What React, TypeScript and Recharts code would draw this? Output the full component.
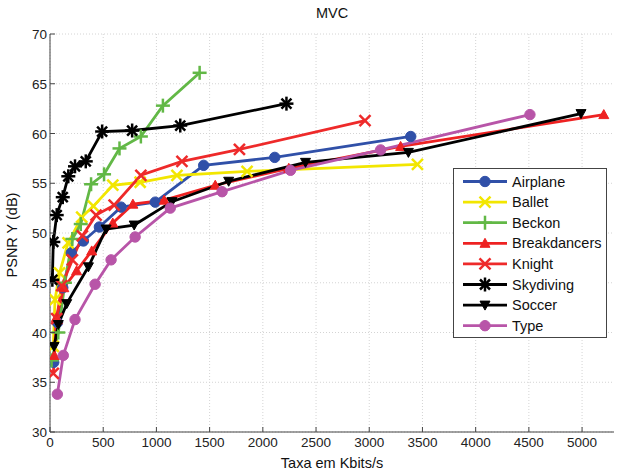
import React from 'react';
import { LineChart, Line, XAxis, YAxis, CartesianGrid } from 'recharts';

const xTicks = [0, 500, 1000, 1500, 2000, 2500, 3000, 3500, 4000, 4500, 5000];
const yTicks = [30, 35, 40, 45, 50, 55, 60, 65, 70];

// [rate kbit/s, PSNR dB]
const airplane = [[35, 37.0], [70, 41.0], [120, 44.5], [200, 48.0], [314, 49.2], [464, 50.6], [668, 52.6], [989, 53.1], [1444, 56.8], [2112, 57.6], [3390, 59.7]];
const ballet = [[31, 38.6], [47, 43.3], [90, 46.0], [170, 49.0], [298, 51.6], [408, 52.7], [590, 54.8], [847, 55.1], [1193, 55.8], [1852, 56.2], [3453, 56.9]];
const beckon = [[15, 37.2], [78, 40.0], [140, 45.0], [210, 49.4], [289, 50.9], [386, 54.9], [508, 55.9], [653, 58.5], [854, 59.7], [1061, 62.8], [1406, 66.1]];
const breakdancers = [[41, 37.7], [60, 41.5], [130, 44.5], [250, 46.2], [392, 48.2], [590, 51.0], [779, 52.9], [1073, 53.3], [1553, 54.8], [2244, 56.5], [3295, 58.7], [5204, 61.9]];
const knight = [[31, 35.9], [63, 41.4], [110, 44.7], [210, 47.3], [304, 49.7], [433, 51.8], [603, 52.8], [854, 55.8], [1240, 57.2], [1780, 58.4], [2960, 61.3]];
const skydiving = [[22, 45.3], [31, 49.1], [63, 51.8], [120, 53.6], [172, 55.7], [235, 56.7], [336, 57.2], [490, 60.2], [772, 60.3], [1224, 60.8], [2222, 63.0]];
const soccer = [[38, 38.6], [78, 40.8], [157, 42.9], [361, 46.6], [527, 50.4], [791, 50.8], [1146, 53.15], [1679, 55.2], [2401, 57.1], [3368, 58.1], [4990, 62.0]];
const type = [[69, 33.8], [125, 37.7], [235, 41.3], [424, 44.85], [574, 47.3], [800, 49.6], [1130, 52.5], [1617, 54.15], [2260, 56.3], [3107, 58.35], [4510, 61.9]];

const series = [
  { name: 'Airplane', pts: airplane, color: '#3050a8', marker: 'circle' },
  { name: 'Ballet', pts: ballet, color: '#f2e600', marker: 'x' },
  { name: 'Beckon', pts: beckon, color: '#62b846', marker: 'plus' },
  { name: 'Breakdancers', pts: breakdancers, color: '#ee2222', marker: 'up' },
  { name: 'Knight', pts: knight, color: '#ee2a2a', marker: 'x' },
  { name: 'Skydiving', pts: skydiving, color: '#000000', marker: 'star' },
  { name: 'Soccer', pts: soccer, color: '#000000', marker: 'down' },
  { name: 'Type', pts: type, color: '#b855a8', marker: 'circle' },
];

const FONT = 'Liberation Sans, Arial, sans-serif';

function Marker({ kind, cx, cy, color }: { kind: string; cx: number; cy: number; color: string }) {
  if (cx == null || cy == null) return null;
  const sw = 2.5;
  switch (kind) {
    case 'circle':
      return <circle cx={cx} cy={cy} r={5.2} fill={color} stroke={color} strokeWidth={1} />;
    case 'x':
      return (
        <g stroke={color} strokeWidth={sw}>
          <line x1={cx - 5.5} y1={cy - 5.5} x2={cx + 5.5} y2={cy + 5.5} />
          <line x1={cx - 5.5} y1={cy + 5.5} x2={cx + 5.5} y2={cy - 5.5} />
        </g>
      );
    case 'plus':
      return (
        <g stroke={color} strokeWidth={sw}>
          <line x1={cx - 7} y1={cy} x2={cx + 7} y2={cy} />
          <line x1={cx} y1={cy - 7} x2={cx} y2={cy + 7} />
        </g>
      );
    case 'star':
      return (
        <g stroke={color} strokeWidth={sw}>
          <line x1={cx - 7} y1={cy} x2={cx + 7} y2={cy} />
          <line x1={cx} y1={cy - 7} x2={cx} y2={cy + 7} />
          <line x1={cx - 5} y1={cy - 5} x2={cx + 5} y2={cy + 5} />
          <line x1={cx - 5} y1={cy + 5} x2={cx + 5} y2={cy - 5} />
        </g>
      );
    case 'up':
      return <polygon points={`${cx},${cy - 5} ${cx - 5},${cy + 4} ${cx + 5},${cy + 4}`} fill={color} stroke={color} strokeWidth={1} />;
    case 'down':
      return <polygon points={`${cx},${cy + 5} ${cx - 5},${cy - 4} ${cx + 5},${cy - 4}`} fill={color} stroke={color} strokeWidth={1} />;
  }
  return null;
}

const XTick = ({ x, y, payload }: any) => (
  <g>
    <line x1={x} x2={x} y1={y} y2={y - 5} stroke="#444" />
    <text x={x} y={y + 15} textAnchor="middle" fontSize={13.5} fill="#222" fontFamily={FONT}>
      {payload.value}
    </text>
  </g>
);
const YTick = ({ x, y, payload }: any) => (
  <g>
    <line x1={x} x2={x + 5} y1={y} y2={y} stroke="#444" />
    <text x={x - 3} y={y + 5} textAnchor="end" fontSize={13.5} fill="#222" fontFamily={FONT}>
      {payload.value}
    </text>
  </g>
);
const TopTick = ({ x, y }: any) => <line x1={x} x2={x} y1={y} y2={y + 5} stroke="#444" />;
const RightTick = ({ x, y }: any) => <line x1={x} x2={x - 5} y1={y} y2={y} stroke="#444" />;

const LegendBox = () => (
  <svg width={155} height={171} style={{ display: 'block' }}>
    <rect x={0.5} y={0.5} width={153} height={169} fill="#fff" stroke="#444" />
    {series.map((s, i) => {
      const cy = 13.5 + i * 20.6;
      return (
        <g key={s.name}>
          <line x1={10} x2={54} y1={cy} y2={cy} stroke={s.color} strokeWidth={2.8} />
          <Marker kind={s.marker} cx={32} cy={cy} color={s.color} />
          <text x={59} y={cy + 5} fontSize={14.5} fill="#111" fontFamily={FONT}>
            {s.name}
          </text>
        </g>
      );
    })}
  </svg>
);

const textStyle: React.CSSProperties = {
  position: 'absolute',
  fontFamily: FONT,
  fontSize: 14.5,
  color: '#111',
  whiteSpace: 'nowrap',
};

export default function App() {
  return (
    <div style={{ position: 'absolute', left: 0, top: 0, width: 619, height: 473, background: '#fff' }}>
      <LineChart width={619} height={473} margin={{ top: 34, right: 5, bottom: 11, left: 0 }}>
        <CartesianGrid stroke="#d4d4d4" strokeDasharray="1 2" horizontalValues={yTicks} verticalValues={xTicks} />
        <XAxis
          type="number"
          dataKey="x"
          domain={[0, 5300]}
          ticks={xTicks}
          interval={0}
          tick={<XTick />}
          tickSize={0}
          tickMargin={0}
          tickLine={false}
          height={30}
          stroke="#444"
          allowDataOverflow
        />
        <XAxis
          xAxisId="top"
          orientation="top"
          type="number"
          domain={[0, 5300]}
          ticks={xTicks}
          interval={0}
          tick={<TopTick />}
          tickSize={0}
          tickMargin={0}
          tickLine={false}
          height={0}
          stroke="#444"
        />
        <YAxis
          type="number"
          domain={[30, 70]}
          ticks={yTicks}
          interval={0}
          tick={<YTick />}
          tickSize={0}
          tickMargin={0}
          tickLine={false}
          width={50}
          stroke="#444"
          allowDataOverflow
        />
        <YAxis
          yAxisId="right"
          orientation="right"
          type="number"
          domain={[30, 70]}
          ticks={yTicks}
          interval={0}
          tick={<RightTick />}
          tickSize={0}
          tickMargin={0}
          tickLine={false}
          width={0}
          stroke="#444"
        />
        {series.map((s) => (
          <Line
            key={s.name}
            name={s.name}
            data={s.pts.map(([x, y]) => ({ x, y }))}
            dataKey="y"
            stroke={s.color}
            strokeWidth={2.8}
            isAnimationActive={false}
            dot={(p: any) => <Marker key={`${s.name}-${p.index}`} kind={s.marker} cx={p.cx} cy={p.cy} color={s.color} />}
            activeDot={false}
          />
        ))}
      </LineChart>
      <div style={{ position: 'absolute', left: 453, top: 168 }}>
        <LegendBox />
      </div>
      <div style={{ ...textStyle, left: 0, width: 664, top: 5, textAlign: 'center' }}>MVC</div>
      <div style={{ ...textStyle, left: 0, width: 664, top: 455, textAlign: 'center' }}>Taxa em Kbits/s</div>
      <div
        style={{
          ...textStyle,
          left: 12,
          top: 235,
          transform: 'translate(-50%, -50%) rotate(-90deg)',
        }}
      >
        PSNR Y (dB)
      </div>
    </div>
  );
}
